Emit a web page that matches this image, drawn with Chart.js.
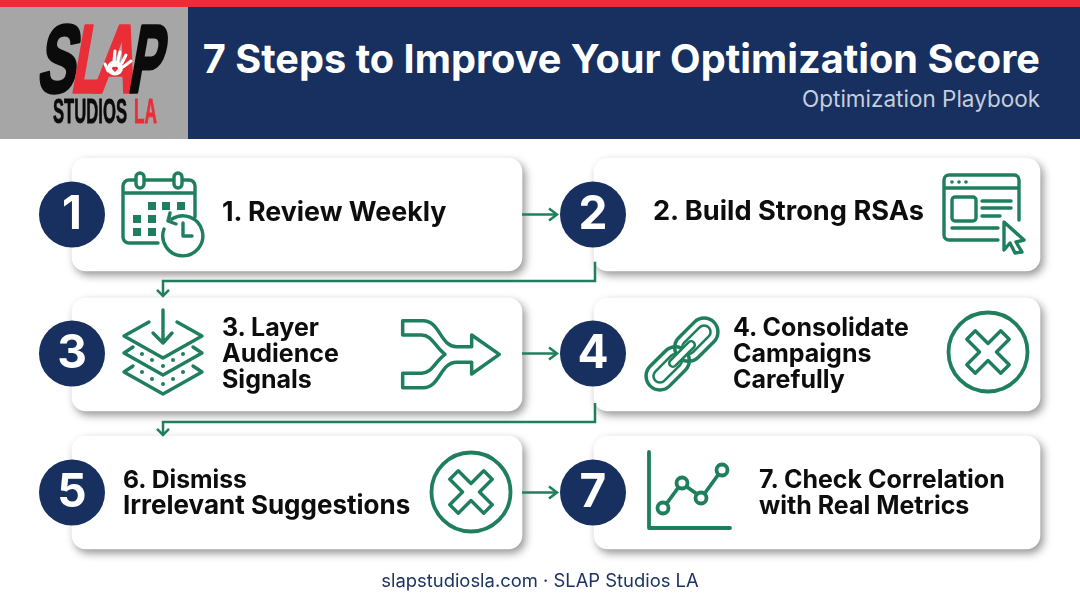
<!DOCTYPE html>
<html>
<head>
<meta charset="utf-8">
<title>7 Steps to Improve Your Optimization Score</title>
<script src="https://cdn.jsdelivr.net/npm/chart.js@4"></script>
<style>
  html, body { margin: 0; padding: 0; background: #fff; }
  #page { position: relative; width: 1080px; height: 603px; overflow: hidden; font-family: Inter, sans-serif; }
  #page > * { position: absolute; }
  #chart { left: 0; top: 0; }
  #topbar { left: 0; top: 0; width: 1080px; height: 7px; background: #ea2e38; }
  #logoBox { left: 0; top: 7px; width: 188px; height: 132px; background: #a6a6a6; }
  #band { left: 188px; top: 7px; width: 892px; height: 132px; background: #17305f; }
  #title { right: 40px; top: 37px; color: #fff; font-size: 39.7px; font-weight: 700; line-height: 44px; white-space: nowrap; }
  #subtitle { right: 40px; top: 85px; color: #c5cedb; font-size: 22.5px; line-height: 28px; white-space: nowrap; }
  #footer { left: 0; width: 1080px; top: 569px; text-align: center; color: #1c3461; font-size: 18.4px; line-height: 22px; }
  .stepTitle { color: #0d0d0d; font-weight: 700; line-height: 26px; white-space: pre; transform: translateY(-50%); }
  .stepTitle span { display: block; }
  svg { left: 0; top: 0; }
</style>
</head>
<body>
<div id="page">
  <canvas id="chart" width="1080" height="603"></canvas>
  <div id="topbar"></div>
  <div id="logoBox"></div>
  <div id="band"></div>
  <div id="title">7 Steps to Improve Your Optimization Score</div>
  <div id="subtitle">Optimization Playbook</div>
  <div id="footer">slapstudiosla.com · SLAP Studios LA</div>

  <svg width="1080" height="603" viewBox="0 0 1080 603" fill="none" stroke="#1f7f5c" stroke-width="3.4" stroke-linecap="round" stroke-linejoin="round">
    <!-- logo -->
    <g stroke="none" font-family="'Liberation Sans Narrow', 'Liberation Sans', sans-serif" font-weight="700">
      <g transform="translate(0,92) skewX(-10)" font-size="96" stroke-width="3.5">
        <text x="36" fill="#0b0b0b" stroke="#0b0b0b" textLength="38" lengthAdjust="spacingAndGlyphs">S</text>
        <text x="70" fill="#ea2e38" stroke="#ea2e38" textLength="32" lengthAdjust="spacingAndGlyphs">L</text>
        <text x="92" fill="#ea2e38" stroke="#ea2e38" textLength="42" lengthAdjust="spacingAndGlyphs">A</text>
        <text x="127" fill="#0b0b0b" stroke="#0b0b0b" textLength="33" lengthAdjust="spacingAndGlyphs">P</text>
      </g>
      <ellipse cx="115" cy="68" rx="8" ry="7.5" fill="#fff"/>
      <g stroke="#fff" stroke-width="3">
        <path d="M118 61 L120 52 M122 63 L126 55 M123 67 L131 61 M108 71 L105 64 M114 61 L115 51"/>
      </g>
      <path d="M115 72 l-3 -3 a2 2 0 0 1 3 -2 a2 2 0 0 1 3 2 z" fill="#ea2e38"/>
      <text x="53" y="123" font-size="35" fill="#0b0b0b" stroke="#0b0b0b" stroke-width="0.8" textLength="74" lengthAdjust="spacingAndGlyphs">STUDIOS</text>
      <text x="134" y="123" font-size="35" fill="#ea2e38" stroke="#ea2e38" stroke-width="0.8" textLength="23" lengthAdjust="spacingAndGlyphs">LA</text>
    </g>

    <!-- calendar -->
    <path d="M158 243 H129 a6 6 0 0 1 -6 -6 V186 a6 6 0 0 1 6 -6 H189 a6 6 0 0 1 6 6 V217 M123 193 H195"/>
    <rect x="136" y="173" width="8" height="15" rx="4" fill="#fff"/>
    <rect x="174" y="173" width="8" height="15" rx="4" fill="#fff"/>
    <g fill="#1f7f5c" stroke="none">
      <rect x="148" y="202" width="8" height="8"/><rect x="162" y="202" width="8" height="8"/><rect x="177" y="202" width="8" height="8"/>
      <rect x="133" y="215" width="8" height="8"/><rect x="148" y="215" width="8" height="8"/>
      <rect x="133" y="228" width="8" height="8"/><rect x="148" y="228" width="8" height="8"/>
    </g>
    <path d="M172 219 A20 20 0 1 1 164 229 M170 213 L168 221 L176 224 M183 223 V236 H192"/>

    <!-- browser -->
    <path d="M998 240 H949 a5 5 0 0 1 -5 -5 V180 a5 5 0 0 1 5 -5 H1014 a5 5 0 0 1 5 5 V220 M944 188 H1019"/>
    <rect x="952" y="197" width="24" height="24" rx="3"/>
    <path d="M982 201 H1011 M982 208 H1011 M982 216 H1000 M952 228 H998"/>
    <g fill="#1f7f5c" stroke="none"><circle cx="952" cy="182" r="1.8"/><circle cx="959" cy="182" r="1.8"/><circle cx="966" cy="182" r="1.8"/></g>
    <path d="M1004 222 L1024 240 L1016 242 L1022 252 L1015 253 L1010 243 L1004 250 Z"/>

    <!-- layers -->
    <path d="M163 310 V343 M153 333 L163 343 L172 333"/>
    <path d="M149 322 L124 336 L163 358 L202 336 L177 322"/>
    <path d="M133 347 L124 353 L163 375 L202 353 L193 347 M133 366 L124 372 L163 394 L202 372 L193 366"/>
    <g fill="#1f7f5c" stroke="none">
      <circle cx="142" cy="354" r="2"/><circle cx="152" cy="360" r="2"/><circle cx="163" cy="366" r="2"/><circle cx="173" cy="360" r="2"/><circle cx="183" cy="354" r="2"/>
      <circle cx="142" cy="372" r="2"/><circle cx="152" cy="379" r="2"/><circle cx="163" cy="384" r="2"/><circle cx="173" cy="379" r="2"/><circle cx="183" cy="372" r="2"/>
    </g>

    <!-- merge arrow -->
    <path transform="translate(390,305) scale(0.3333)" stroke-width="10.5" d="M38 47 H100 C150 47 150 125 200 125 H245 V90 L328 148 L245 207 V172 H200 C150 172 150 248 100 248 H38 V205 H95 C125 205 135 170 165 148 C135 125 125 90 95 90 H38 Z"/>

    <!-- chain -->
    <g transform="translate(682,354) rotate(-45) scale(0.92)" stroke-width="3.8">
      <rect x="-49" y="-15" width="54" height="30" rx="15"/>
      <rect x="-41" y="-7" width="38" height="14" rx="7" stroke-width="2.8"/>
      <rect x="-5" y="-15" width="54" height="30" rx="15"/>
      <rect x="3" y="-7" width="38" height="14" rx="7" stroke-width="2.8"/>
      <rect x="-18" y="-4" width="36" height="8" rx="4" fill="#fff" stroke-width="2.8"/>
    </g>

    <!-- dismiss icons -->
    <defs>
      <g id="dismiss">
        <circle r="39.5" stroke-width="3.8"/>
        <path transform="rotate(45)" d="M-6 -24 H6 V-6 H24 V6 H6 V24 H-6 V6 H-24 V-6 H-6 Z"/>
      </g>
    </defs>
    <use href="#dismiss" x="988" y="352"/>
    <use href="#dismiss" x="471" y="492"/>

    <!-- metrics -->
    <path d="M649 452 V528 H730" stroke-width="3.8"/>
    <path d="M667 503 L678 488 M687 487 L697 494 M705 493 L718 475" stroke-width="3.8"/>
    <circle cx="663" cy="508" r="5.5" stroke-width="3.8"/>
    <circle cx="682" cy="483" r="5.5" stroke-width="3.8"/>
    <circle cx="701" cy="498" r="5.5" stroke-width="3.8"/>
    <circle cx="722" cy="470" r="5.5" stroke-width="3.8"/>
  </svg>
</div>

<script>
const stepNumbers = ['1', '2', '3', '4', '5', '7'];
const stepTitles = [
  '1. Review Weekly',
  '2. Build Strong RSAs',
  '3. Layer\nAudience\nSignals',
  '4. Consolidate\nCampaigns\nCarefully',
  '6. Dismiss\nIrrelevant Suggestions',
  '7. Check Correlation\nwith Real Metrics'
];
const titleLeft = [222, 653, 222, 733, 123, 759];
const titleSizes = [[26.8], [27.2], [25], [25], [24.7, 26], [25]];
const titleRows = [0.985, 0.985, 2, 2, 3, 3];
const stepRows = [1, 1, 2, 2, 3, 3];
const cardRows = [1, 2.007, 3];
const leftCards = [[72, 522], [72, 522], [72, 522]];
const rightCards = [[594, 1040], [594, 1040], [594, 1040]];
const badgeColumns = [72, 593, 72, 593, 72, 593];
// connectors between the cards
const elbowTop = [[595, 1.34], [595, 1.478], [163, 1.478], [163, 1.586]];
const elbowTopHead = [[157, 1.543], [163, 1.586], [169, 1.543]];
const elbowMid = [[595, 2.356], [595, 2.493], [163, 2.493], [163, 2.586]];
const elbowMidHead = [[157, 2.543], [163, 2.586], [169, 2.543]];
const across = [[[522, 1], [557, 1]], [[522, 2], [557, 2]], [[522, 3], [557, 3]]];
const acrossHead = [[549, -0.043], [557, 0], [549, 0.043]];

const navy = '#17305f';
const green = '#1f7f5c';

function toPoints(list) {
  return list.map(p => ({ x: p[0], y: p[1] }));
}

function linkDataset(list) {
  return {
    type: 'line',
    data: toPoints(list),
    borderColor: green,
    borderWidth: 2.5,
    pointRadius: 0,
    fill: false,
    tension: 0,
    order: 1
  };
}

function cardDataset(list) {
  return {
    type: 'bar',
    data: cardRows.map((r, i) => ({ x: list[i], y: r })),
    backgroundColor: '#fff',
    borderSkipped: false,
    borderRadius: 14,
    barThickness: 113,
    grouped: false,
    order: 2
  };
}

const linkSets = [elbowTop, elbowTopHead, elbowMid, elbowMidHead];
across.forEach(line => {
  linkSets.push(line);
  linkSets.push(acrossHead.map(p => [p[0], line[0][1] + p[1]]));
});

const cardShadow = {
  id: 'cardShadow',
  beforeDatasetDraw(chart, args) {
    if (chart.data.datasets[args.index].type === 'bar') {
      const ctx = chart.ctx;
      ctx.save();
      ctx.shadowColor = 'rgba(0,0,0,0.42)';
      ctx.shadowBlur = 9;
      ctx.shadowOffsetX = 3;
      ctx.shadowOffsetY = 4;
    }
  },
  afterDatasetDraw(chart, args) {
    if (chart.data.datasets[args.index].type === 'bar') chart.ctx.restore();
  }
};

const badgeNumbers = {
  id: 'badgeNumbers',
  afterDatasetsDraw(chart) {
    const ctx = chart.ctx;
    ctx.save();
    ctx.fillStyle = '#fff';
    ctx.font = '700 46px Inter, sans-serif';
    ctx.textAlign = 'center';
    ctx.textBaseline = 'middle';
    stepNumbers.forEach((n, i) => {
      ctx.fillText(n, chart.scales.x.getPixelForValue(badgeColumns[i]), chart.scales.y.getPixelForValue(stepRows[i]) + 1);
    });
    ctx.restore();
  }
};

const chart = new Chart(document.getElementById('chart'), {
  data: {
    datasets: [
      {
        type: 'scatter',
        data: badgeColumns.map((x, i) => ({ x: x, y: stepRows[i] })),
        backgroundColor: navy,
        borderWidth: 0,
        pointRadius: 33,
        pointHoverRadius: 33,
        order: 0
      },
      ...linkSets.map(linkDataset),
      cardDataset(leftCards),
      cardDataset(rightCards)
    ]
  },
  options: {
    indexAxis: 'y',
    responsive: false,
    animation: false,
    events: [],
    layout: { autoPadding: false, padding: { top: 145, bottom: 41, left: 0, right: 0 } },
    plugins: { legend: { display: false }, tooltip: { enabled: false } },
    scales: {
      x: { type: 'linear', min: 0, max: 1080, offset: false, display: false },
      y: { type: 'linear', min: 0.5, max: 3.5, offset: false, reverse: true, display: false }
    }
  },
  plugins: [cardShadow, badgeNumbers]
});

// card titles sit on the same scales as the cards
stepTitles.forEach((t, i) => {
  const el = document.createElement('div');
  el.className = 'stepTitle';
  t.split('\n').forEach((line, j) => {
    const span = document.createElement('span');
    span.textContent = line;
    span.style.fontSize = (titleSizes[i][j] || titleSizes[i][0]) + 'px';
    el.appendChild(span);
  });
  el.style.left = chart.scales.x.getPixelForValue(titleLeft[i]) + 'px';
  el.style.top = (chart.scales.y.getPixelForValue(titleRows[i]) - 1) + 'px';
  document.getElementById('page').appendChild(el);
});
</script>
</body>
</html>
